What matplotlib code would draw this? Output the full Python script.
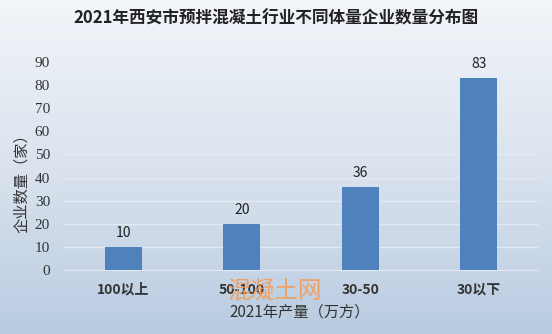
import numpy as np
import matplotlib.pyplot as plt
from matplotlib.colors import LinearSegmentedColormap

plt.rcParams['font.family'] = ['Noto Sans CJK SC', 'DejaVu Sans']

categories = ['100以上', '50-100', '30-50', '30以下']
counts = [10, 20, 36, 83]
yticks = [0, 10, 20, 30, 40, 50, 60, 70, 80, 90]

W, H = 552, 334
fig = plt.figure(figsize=(W / 100, H / 100), dpi=100)

# background gradient
bg = fig.add_axes([0, 0, 1, 1], zorder=-1)
cmap = LinearSegmentedColormap.from_list('bg', ['#f2f5f9', '#dae3ee', '#b9cbe1'])
grad = np.linspace(0, 1, 256).reshape(-1, 1)
bg.imshow(grad, aspect='auto', cmap=cmap, extent=[0, 1, 0, 1], origin='upper')
bg.axis('off')

ax = fig.add_axes([64 / W, 1 - 270 / H, 474 / W, 208 / H])
ax.set_facecolor('none')
x = np.arange(len(categories))
ax.bar(x, counts, width=0.31, color='#4f81bd', zorder=3)
for xi, v in zip(x, counts):
    ax.text(xi, v + 3, str(v), ha='center', va='bottom', fontsize=10, color='#222222')

ax.set_xlim(-0.5, len(categories) - 0.5)
ax.set_ylim(0, 90)
ax.set_yticks(yticks)
ax.set_xticks(x)
ax.set_xticklabels(categories, fontsize=10, fontweight='bold', color='#333333')
ax.tick_params(length=0)
ax.tick_params(axis='y', pad=10, labelsize=11, labelcolor='#333333',
               labelfontfamily='Liberation Serif')
ax.tick_params(axis='x', pad=9)
ax.grid(axis='y', color='#e4eaf2', linewidth=1, zorder=0)
for s in ['top', 'right', 'left']:
    ax.spines[s].set_visible(False)
ax.spines['bottom'].set_color('#e4eaf2')

fig.text(0.5, 1 - 18 / H, '2021年西安市预拌混凝土行业不同体量企业数量分布图',
         ha='center', va='center', fontsize=12, fontweight='bold', color='#222222')
fig.text(22 / W, 1 - 180 / H, '企业数量（家）', rotation=90, ha='center', va='center',
         fontsize=11, color='#333333')
fig.text(300 / W, 1 - 312 / H, '2021年产量（万方）', ha='center', va='center',
         fontsize=11, color='#333333')
# watermark
fig.text(275 / W, 1 - 292 / H, '混凝土网', ha='center', va='center',
         fontsize=17, color='#f59a4e', alpha=0.85)

fig.savefig('out.png', dpi=100)
